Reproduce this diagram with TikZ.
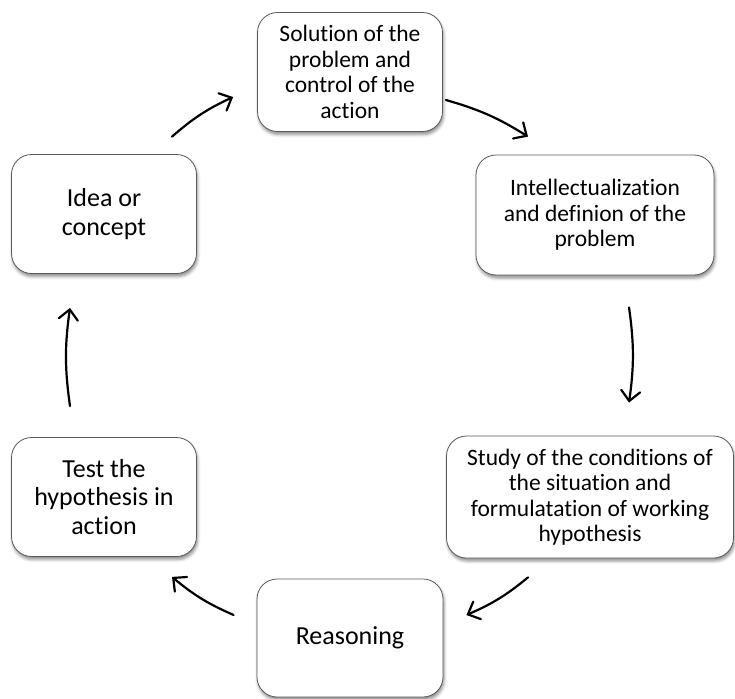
\documentclass[tikz,border=0pt]{standalone}
\usepackage{fontspec}
\setmainfont[Ligatures=NoCommon]{Carlito}
\usetikzlibrary{arrows.meta,shadows.blur,calc}
\tikzset{
  stage/.style={draw=black!65, line width=0.8pt, fill=white, rounded corners=20pt,
    align=center, inner sep=0pt, minimum width=185pt, minimum height=119pt,
    font=\fontsize{23.5}{25.5}\selectfont,
    blur shadow={shadow xshift=1pt, shadow yshift=-3pt, shadow blur radius=3pt, shadow opacity=45}},
  bigtext/.style={font=\fontsize{26}{28.8}\selectfont},
  cyc/.style={line width=2.2pt, line cap=round, bend left=8,
    -{Straight Barb[length=10pt,width=19pt,line cap=round]}}
}
\begin{document}
\begin{tikzpicture}[x=1pt,y=-1pt]
\useasboundingbox (0,0) rectangle (735,698);
\node[stage] (sol) at (350,72) {Solution of the\\problem and\\control of the\\action};
\node[stage, minimum width=238pt, minimum height=120pt] (intel) at (595,215) {Intellectualization\\and definion of the\\problem};
\node[stage, minimum width=287pt, minimum height=122pt] (study) at (590,497) {Study of the conditions of\\the situation and\\formulatation of working\\hypothesis};
\node[stage, bigtext, minimum width=186pt, minimum height=118pt] (reas) at (350,638) {Reasoning};
\node[stage, bigtext] (test) at (104,497) {Test the\\hypothesis in\\action};
\node[stage, bigtext] (idea) at (104,214) {Idea or\\concept};
\draw[cyc] ($(idea.north)+(68,-17.5)$) to ($(sol.west)+(-24,25)$);
\draw[cyc] ($(sol.east)+(3,28)$) to ($(intel.north)+(-67,-18)$);
\draw[cyc] ($(intel.south)+(34,32)$) to ($(study.north)+(39,-33)$);
\draw[cyc] ($(study.south)+(-62,19)$) to ($(reas.east)+(23,-23)$);
\draw[cyc] ($(reas.west)+(-23,-23)$) to ($(test.south)+(68,20)$);
\draw[cyc] ($(test.north)+(-34,-31)$) to ($(idea.south)+(-34,34)$);
\end{tikzpicture}
\end{document}
